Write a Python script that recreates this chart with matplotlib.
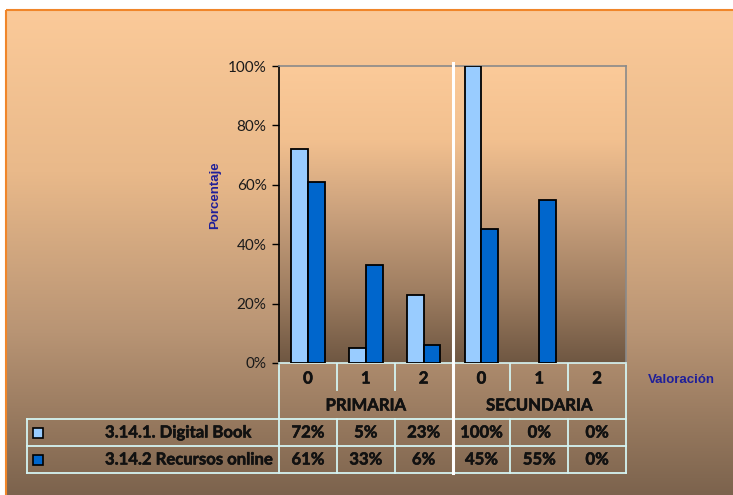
import numpy as np
import matplotlib
matplotlib.use("Agg")
import matplotlib.pyplot as plt
import matplotlib.patheffects as pe
from matplotlib.colors import LinearSegmentedColormap
from matplotlib.patches import Rectangle

# ── data ─────────────────────────────────────────────────────────
groups = ["PRIMARIA", "SECUNDARIA"]
ratings = ["0", "1", "2"]
series_names = ["3.14.1. Digital Book", "3.14.2 Recursos online"]
digital_book = [72, 5, 23, 100, 0, 0]
recursos_online = [61, 33, 6, 45, 55, 0]
series_colors = ["#99CCFF", "#0066CC"]

W, H = 733, 495
fig = plt.figure(figsize=(W / 100, H / 100), dpi=100)
fig.patch.set_facecolor("white")

# ── background (pixel coords) ────────────────────────────────────
bg = fig.add_axes([0, 0, 1, 1])
bg.set_xlim(0, W)
bg.set_ylim(H, 0)
bg.axis("off")
outer_cmap = LinearSegmentedColormap.from_list("outer", ["#FBCA99", "#E9B98A", "#B89474", "#7C634D"])
grad = np.linspace(0, 1, 256).reshape(-1, 1)
bg.imshow(grad, cmap=outer_cmap, extent=(6, W, H, 10), aspect="auto", zorder=0)
bg.add_patch(Rectangle((6, 10), W, H, fill=False, ec="#F0862A", lw=1.5, zorder=1))

# ── plot area ────────────────────────────────────────────────────
x0, x1, ytop, ybot = 279, 626, 66, 363
ax = fig.add_axes([x0 / W, (H - ybot) / H, (x1 - x0) / W, (ybot - ytop) / H])
ax.patch.set_alpha(0)
n = len(digital_book)
xs = np.arange(n)
ax.set_xlim(-0.5, n - 0.5)
ax.set_ylim(0, 100)
inner_cmap = LinearSegmentedColormap.from_list("inner", ["#FBCA99", "#F2C08F", "#C9A07C", "#A07F62", "#6F5742"])
ax.imshow(grad, cmap=inner_cmap, extent=(-0.5, n - 0.5, 0, 100), aspect="auto", zorder=0)

bw = 0.29
for k, (vals, col) in enumerate(zip([digital_book, recursos_online], series_colors)):
    off = (k - 0.5) * bw
    lws = [1.3 if v > 0 else 0 for v in vals]
    ax.bar(xs + off, vals, width=bw, color=col, edgecolor="black", linewidth=lws, zorder=3)

ax.set_yticks(np.arange(0, 101, 20))
ax.set_yticklabels([f"{v}%" for v in range(0, 101, 20)], fontfamily="Lato", fontsize=11, color="#1a1a1a")
ax.set_xticks([])
ax.tick_params(axis="y", direction="out", length=5, width=1, color="black", pad=4)
ax.spines["left"].set_color("black")
ax.spines["top"].set_color("#8a8a8a")
ax.spines["right"].set_color("#8a8a8a")
ax.spines["bottom"].set_color("#D8F6F4")
for s in ax.spines.values():
    s.set_linewidth(1.2)

# ── data table under the plot (pixel coords on bg) ───────────────
colw = (x1 - x0) / n
col_edges = [x0 + i * colw for i in range(n + 1)]
col_centers = [x0 + (i + 0.5) * colw for i in range(n)]
line_kw = dict(color="#D4F4F2", lw=1.3, zorder=2)
bold_fx = [pe.withStroke(linewidth=0.4, foreground="#111111")]
tkw = dict(fontfamily="Lato", fontweight="bold", fontsize=12, color="#111111",
           ha="center", va="center", zorder=3, path_effects=bold_fx)

y_cat, y_grp, y_r1, y_r2, y_end = 363, 390, 419, 446, 473
leg_x = 27

for i, xe in enumerate(col_edges):
    if i in (0, n):
        bg.plot([xe, xe], [y_cat, y_end], **line_kw)
    elif i == 3:
        continue
    else:
        bg.plot([xe, xe], [y_cat, y_grp], **line_kw)
        bg.plot([xe, xe], [y_r1, y_end], **line_kw)
for yy in (y_r1, y_r2, y_end):
    bg.plot([leg_x, x1], [yy, yy], **line_kw)
bg.plot([leg_x, leg_x], [y_r1, y_end], **line_kw)

for i, c in enumerate(col_centers):
    bg.text(c, (y_cat + y_grp) / 2 + 2, ratings[i % 3], **tkw)
for g, name in enumerate(groups):
    gc = (col_edges[3 * g] + col_edges[3 * g + 3]) / 2
    bg.text(gc, (y_grp + y_r1) / 2 + 1, name, **tkw)

for r, (vals, name, col) in enumerate(zip([digital_book, recursos_online], series_names, series_colors)):
    yc = (y_r1 + y_r2) / 2 + r * (y_r2 - y_r1)
    bg.add_patch(Rectangle((33, yc - 5), 10, 10, facecolor=col, edgecolor="black", lw=1.2, zorder=3))
    bg.text(105, yc, name, **{**tkw, "ha": "left"})
    for i, v in enumerate(vals):
        bg.text(col_centers[i], yc, f"{v}%", **tkw)

# white separator between groups, drawn with ax so it sits above the plot area
ax.plot([col_edges[3], col_edges[3]], [63, y_end], color="white", lw=2.2, zorder=6,
        transform=bg.transData, clip_on=False)

# axis titles
bg.text(215, 195, "Porcentaje", rotation=90, fontfamily="Liberation Sans", fontweight="bold",
        fontsize=9.5, color="#1F1F99", ha="center", va="center")
bg.text(681, 380, "Valoración", fontfamily="Liberation Sans", fontweight="bold",
        fontsize=9.5, color="#1F1F99", ha="center", va="center")

fig.savefig("out.png", dpi=100)
